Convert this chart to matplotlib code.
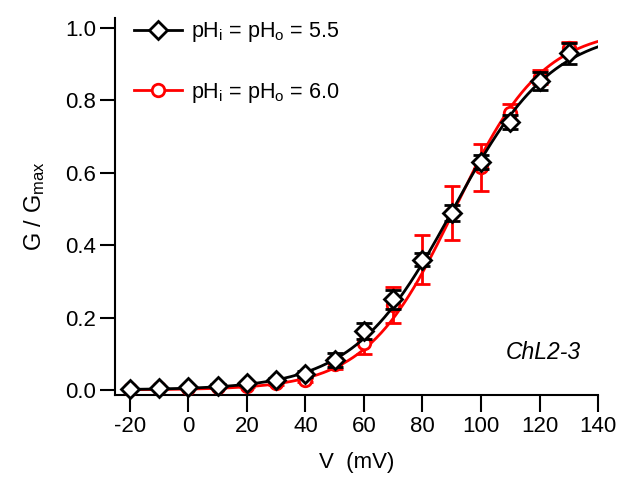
import numpy as np
import matplotlib
matplotlib.use('Agg')
from matplotlib import pyplot as plt
from matplotlib.lines import Line2D

plt.rcParams['font.family'] = ['Liberation Sans', 'DejaVu Sans']
plt.rcParams['mathtext.fontset'] = 'custom'
plt.rcParams['mathtext.rm'] = 'Liberation Sans'
plt.rcParams['mathtext.it'] = 'Liberation Sans:italic'
plt.rcParams['axes.unicode_minus'] = False

#--------------------------------------------------------------------------#
# data
#--------------------------------------------------------------------------#
volts = [-20, -10, 0, 10, 20, 30, 40, 50, 60, 70, 80, 90, 100, 110, 120, 130]

g_55 = [0.003, 0.005, 0.007, 0.012, 0.018, 0.027, 0.045, 0.083,
        0.163, 0.250, 0.360, 0.490, 0.630, 0.740, 0.855, 0.930]
err_55 = [0.003, 0.003, 0.003, 0.004, 0.005, 0.006, 0.008, 0.02,
          0.022, 0.025, 0.018, 0.022, 0.02, 0.02, 0.025, 0.03]

g_60 = [0.002, 0.004, 0.006, 0.009, 0.012, 0.018, 0.028, 0.072,
        0.130, 0.235, 0.360, 0.490, 0.615, 0.765, 0.865, 0.945]
err_60 = [0.002, 0.002, 0.002, 0.003, 0.004, 0.005, 0.006, 0.015,
          0.03, 0.05, 0.068, 0.075, 0.065, 0.025, 0.02, 0.018]

# Boltzmann fit parameters (V half, slope)
fit_55 = (90.5, 17.0)
fit_60 = (91.0, 15.0)

def boltzmann(v, vhalf, k):
    return 1.0 / (1.0 + np.exp(-(v - vhalf) / k))

#--------------------------------------------------------------------------#

fig = plt.figure(figsize=(6.21, 4.79), dpi=100)
ax = fig.add_axes([0.1852, 0.1754, 0.7778, 0.787])

vfit = np.linspace(-20, 140, 400)

ax.plot(vfit, boltzmann(vfit, *fit_60), color='red', lw=2, zorder=2)
ax.errorbar(volts, g_60, yerr=err_60, fmt='o', color='red', ecolor='red',
            mfc='white', mec='red', ms=9, mew=2, elinewidth=2,
            capsize=6, capthick=2, zorder=3, clip_on=False)

ax.plot(vfit, boltzmann(vfit, *fit_55), color='black', lw=2, zorder=4)
ax.errorbar(volts, g_55, yerr=err_55, fmt='D', color='black', ecolor='black',
            mfc='white', mec='black', ms=9.5, mew=2, elinewidth=2,
            capsize=6, capthick=2, zorder=5, clip_on=False)

ax.set_xlim(-25.1, 140)
ax.set_ylim(-0.014, 1.028)
ax.set_xticks(np.arange(-20, 141, 20))
ax.set_yticks(np.arange(0, 1.01, 0.2))
ax.yaxis.set_major_formatter(plt.FormatStrFormatter('%.1f'))

for s in ['top', 'right']:
    ax.spines[s].set_visible(False)
for s in ['left', 'bottom']:
    ax.spines[s].set_linewidth(1.5)
ax.tick_params(direction='out', width=1.5, labelsize=16)
ax.tick_params(axis='x', length=12, pad=3)
ax.tick_params(axis='y', length=10.5, pad=3)

ax.set_xlabel('V  (mV)', fontsize=16, labelpad=11)
ax.set_ylabel(r'G / G$_\mathrm{max}$', fontsize=17, labelpad=13)

handles = [Line2D([], [], color='black', lw=2, marker='D', ms=9.5, mfc='white', mew=2),
           Line2D([], [], color='red', lw=2, marker='o', ms=9, mfc='white', mew=2)]
labels = [r'pH$_\mathrm{i}$ = pH$_\mathrm{o}$ = 5.5',
          r'pH$_\mathrm{i}$ = pH$_\mathrm{o}$ = 6.0']
ax.legend(handles, labels, loc='upper left', bbox_to_anchor=(0.0, 1.045),
          frameon=False, fontsize=15.5, labelspacing=1.7, handlelength=2.2,
          handletextpad=0.45)

ax.text(0.886, 0.112, 'ChL2-3', transform=ax.transAxes, fontsize=16.5,
        style='italic', ha='center', va='center')

fig.savefig('out.png', dpi=100)
